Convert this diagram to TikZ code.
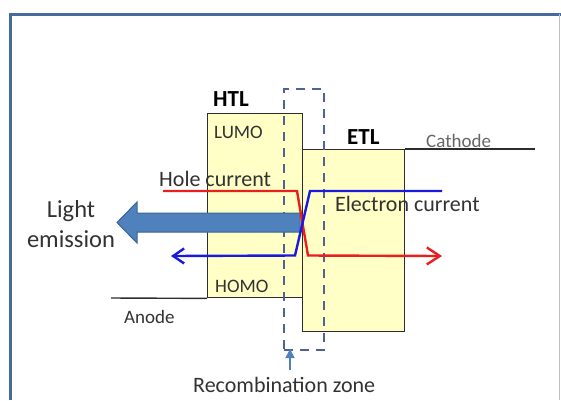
\documentclass[tikz,border=0pt]{standalone}
\usepackage{fontspec}
\setmainfont{Carlito}
\usepackage{tikz}
\usetikzlibrary{arrows.meta, positioning}
\definecolor{layeryellow}{RGB}{255,255,198}
\definecolor{edgegray}{RGB}{45,45,45}
\definecolor{textgray}{RGB}{50,50,50}
\definecolor{holered}{RGB}{235,30,30}
\definecolor{electronblue}{RGB}{25,25,225}
\definecolor{lightblue}{RGB}{79,129,189}
\definecolor{lightedge}{RGB}{58,100,150}
\definecolor{zoneblue}{RGB}{78,99,145}
\definecolor{framblue}{RGB}{70,105,158}

\tikzset{
  layerbox/.style={draw=edgegray, fill=layeryellow, line width=1.4pt, inner sep=0pt, anchor=north west},
  lbl/.style={anchor=base west, inner sep=0pt, text=textgray, font=\fontsize{19}{21}\selectfont},
  biglbl/.style={anchor=base west, inner sep=0pt, text=textgray, font=\fontsize{22}{24}\selectfont},
  layerlbl/.style={anchor=base west, inner sep=0pt, text=black, font=\fontsize{23}{25}\selectfont\bfseries},
  current/.style={line width=2.4pt, line join=miter},
}

\begin{document}
\begin{tikzpicture}[x=1pt, y=-1pt]
\useasboundingbox (0,0) rectangle (561,400);
% frame
\draw[framblue, line width=3pt] (10,400) -- (10,14) -- (561,14);
\draw[black!25, line width=0.8pt] (559,14) -- (559,400);

% electrodes
\coordinate (anodeend) at (111,298);
\coordinate (cathodeend) at (535,149);

% layers
\node[layerbox, minimum width=95pt, minimum height=184pt] (htl) at (207,113) {};
\node[layerbox, minimum width=102pt, minimum height=182pt] (etl) at (302,149) {};
\draw[edgegray, line width=1.4pt] (anodeend) -- (htl.south west);
\draw[edgegray, line width=1.4pt] (etl.north east) -- (cathodeend);

% recombination zone
\node[draw=zoneblue, line width=2pt, dash pattern=on 9pt off 7pt, inner sep=0pt,
      minimum width=40pt, minimum height=261pt, anchor=north west] (zone) at (283,88) {};

% light emission arrow
\draw[lightedge, fill=lightblue, line width=1pt]
  (300,213) -- (137,213) -- (137,202) -- (117,222.5) -- (137,243) -- (137,232) -- (300,232) -- cycle;

% hole and electron currents
\coordinate (holestart) at (163,191);
\coordinate (holeend) at (442,256);
\coordinate (elecstart) at (442,191);
\coordinate (elecend) at (171,256);
\draw[current, holered, -{Straight Barb[length=13pt, width=17pt, line width=2.4pt]}]
  (holestart) -- (297,191) -- (308,255.5) -- (holeend);
\draw[current, electronblue, -{Straight Barb[length=11pt, width=15pt, line width=2.4pt]}]
  (elecstart) -- (310,191) -- (295,255.5) -- (elecend);

% labels
\node[layerlbl] (htllbl) at (213,106) {HTL};
\node[layerlbl] (etllbl) at (347,144) {ETL};
\node[lbl] (lumo) at (214,138) {LUMO};
\node[lbl] (homo) at (215,292) {HOMO};
\node[lbl, text=black!60] (cathode) at (426,147) {Cathode};
\node[lbl] (anode) at (124,323) {Anode};
\node[biglbl] (holelbl) at (159,186) {Hole current};
\node[biglbl] (eleclbl) at (335,211) {Electron current};
\node[anchor=base, inner sep=0pt, text=textgray, align=center,
      font=\fontsize{24.5}{30}\selectfont] (light) at (71,247) {Light\\emission};
\node[biglbl] (rz) at (193,392) {Recombination zone};

% recombination arrow
\coordinate (zonetip) at (290,349);
\coordinate (rztail) at (290,370);
\draw[lightblue, line width=1.8pt, -{Triangle[length=9pt, width=9pt]}] (rztail) -- (zonetip);
\end{tikzpicture}
\end{document}
